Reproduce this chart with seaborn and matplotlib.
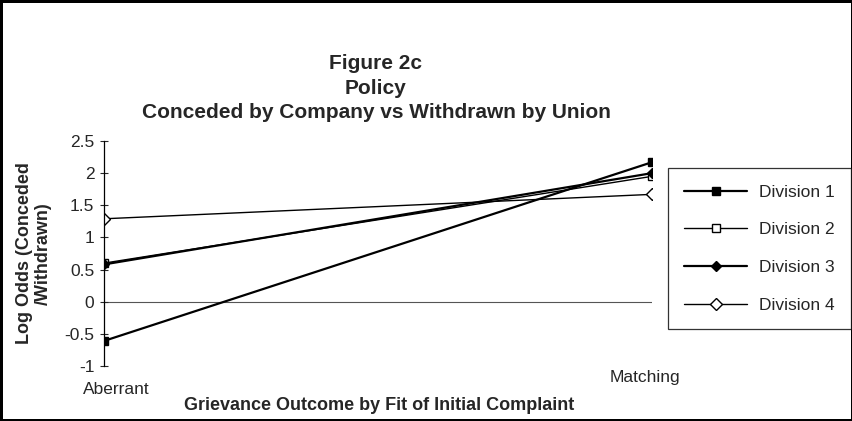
import pandas as pd
import matplotlib
matplotlib.use("Agg")
import matplotlib.pyplot as plt
import matplotlib.transforms as mtransforms
import seaborn as sns

# values (log odds conceded / withdrawn)
outcomes = ["Aberrant", "Matching"]
division_1 = [-0.61, 2.17]
division_2 = [0.60, 1.95]
division_3 = [0.58, 2.00]
division_4 = [1.29, 1.67]
y_ticks = [-1, -0.5, 0, 0.5, 1, 1.5, 2, 2.5]
y_tick_labels = ["-1", "-0.5", "0", "0.5", "1", "1.5", "2", "2.5"]

sns.set_style("white")
plt.rcParams["font.family"] = ["Liberation Sans", "DejaVu Sans"]

fig = plt.figure(figsize=(8.53, 4.21), dpi=100)
fig.patch.set_edgecolor("black")
fig.patch.set_linewidth(2.5)
ax = fig.add_axes([104 / 853, 1 - 366 / 421, 548 / 853, 225 / 421])

series = [
    ("Division 1", division_1, "s", "black", 1.6, 7),
    ("Division 2", division_2, "s", "white", 1.6, 7),
    ("Division 3", division_3, "D", "black", 1.6, 5.5),
    ("Division 4", division_4, "D", "white", 1.0, 6),
]
for name, vals, mk, face, lw, ms in series:
    df = pd.DataFrame({"outcome": outcomes, "log_odds": vals})
    sns.lineplot(data=df, x="outcome", y="log_odds", ax=ax, color="black",
                 marker=mk, markerfacecolor=face, markeredgecolor="black",
                 markersize=ms, markeredgewidth=1.0, linewidth=lw, label=name)

ax.axhline(0, color="#555555", linewidth=0.8, zorder=0)
ax.set_xlim(0, 1)
ax.set_ylim(-1, 2.5)
ax.set_yticks(y_ticks)
ax.set_yticklabels(y_tick_labels)
ax.tick_params(axis="y", direction="inout", length=6, width=0.8, labelsize=12.5, pad=4,
               left=True)
ax.tick_params(axis="x", length=0, labelsize=12.5, pad=3)
for side in ["top", "right", "bottom"]:
    ax.spines[side].set_visible(False)
ax.spines["left"].set_color("black")
ax.spines["left"].set_linewidth(0.9)

# staggered category labels as in the original
offsets = [(0.12, -0.12), (-0.07, 0.0)]
for lbl, (dx, dy) in zip(ax.get_xticklabels(), offsets):
    lbl.set_transform(lbl.get_transform() +
                      mtransforms.ScaledTranslation(dx, dy, fig.dpi_scale_trans))

ax.set_ylabel("Log Odds (Conceded\n/Withdrawn)", fontsize=13, fontweight="bold",
              linespacing=1.15)
ax.yaxis.set_label_coords(-0.095, 0.5)
ax.set_xlabel("Grievance Outcome by Fit of Initial Complaint", fontsize=13,
              fontweight="bold")
ax.xaxis.set_label_coords(0.502, -0.14)

fig.text(376 / 853, 1 - 88 / 421,
         "Figure 2c\nPolicy\nConceded by Company vs Withdrawn by Union",
         ha="center", va="center", fontsize=15, fontweight="bold", linespacing=1.38)

handles, labels = ax.get_legend_handles_labels()
ax.get_legend().remove()
for h, ms in zip(handles, [6, 6, 5, 6]):
    h.set_markersize(ms)
handles[1].set_linewidth(1.0)
handles[3].set_linewidth(1.0)
leg = fig.legend(handles, labels, loc="upper left", bbox_to_anchor=(668 / 853, 1 - 168 / 421),
                 frameon=True, fancybox=False, edgecolor="black", fontsize=12.5,
                 handlelength=3.6, handletextpad=0.7, labelspacing=1.3,
                 borderpad=0.95, borderaxespad=0)
leg.get_frame().set_linewidth(0.9)

plt.savefig("out.png", dpi=100)
